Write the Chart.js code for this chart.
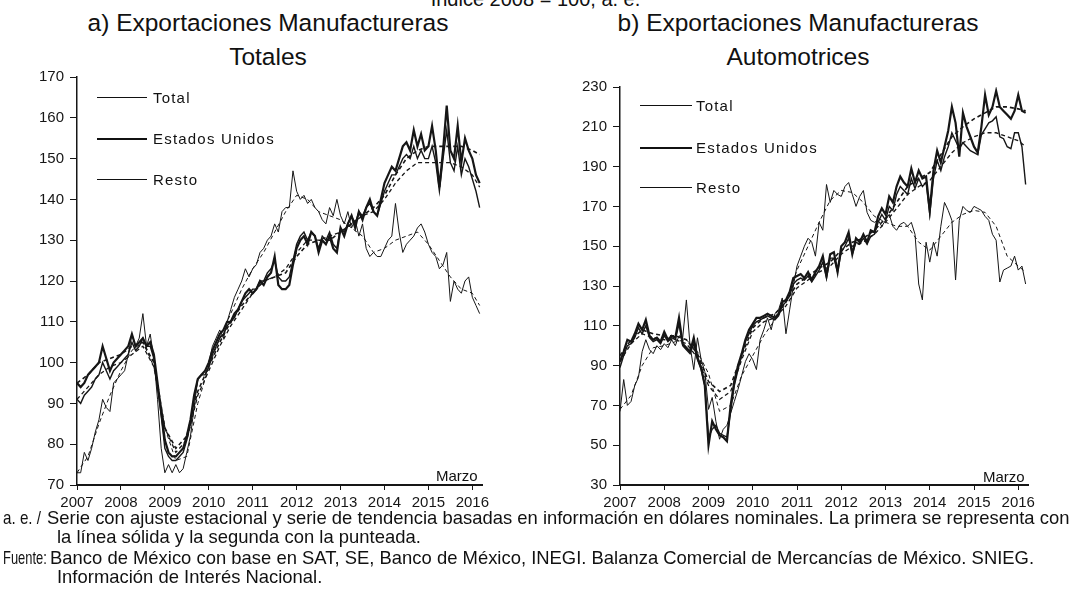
<!DOCTYPE html>
<html>
<head>
<meta charset="utf-8">
<script src="https://cdn.jsdelivr.net/npm/chart.js@4.4.1/dist/chart.umd.min.js"></script>
<style>
  body { margin: 0; background: #fff; font-family: 'Liberation Sans', Arial, sans-serif; color: #111; }
  #wrap { position: relative; width: 1071px; height: 597px; overflow: hidden; }
  .cv { position: absolute; }
  .title { position: absolute; font-size: 24.5px; text-align: center; line-height: 34px; white-space: nowrap; }
  .leg { position: absolute; font-size: 15px; letter-spacing: 1.2px; }
  .leg .ln { position: absolute; height: 0; border-top-style: solid; border-top-color: #111; }
  .leg .tx { position: absolute; white-space: nowrap; transform: translateY(-50%); }
  .marzo { position: absolute; font-size: 15px; }
  .nota { position: absolute; font-size: 19px; white-space: nowrap; transform: scaleX(0.97); transform-origin: left top; line-height: 20px; }
</style>
</head>
<body>
<div id="wrap">
  <div class="title" style="left:20px; top:-18px; width:1031px; font-size:20px;">Índice 2008 = 100, a. e.</div>
  <div class="title" style="left:28px; top:6px; width:480px;">a) Exportaciones Manufactureras<br>Totales</div>
  <div class="title" style="left:558px; top:6px; width:480px;">b) Exportaciones Manufactureras<br>Automotrices</div>

  <canvas id="chartA" class="cv" style="left:0px; top:60px;" width="500" height="460"></canvas>
  <canvas id="chartB" class="cv" style="left:540px; top:60px;" width="500" height="460"></canvas>

  <div class="leg">
    <div class="ln" style="left:97px; top:97px; width:50px; border-top-width:1.5px;"></div><div class="tx" style="left:153px; top:97px;">Total</div>
    <div class="ln" style="left:97px; top:138px; width:50px; border-top-width:2.5px;"></div><div class="tx" style="left:153px; top:138px;">Estados Unidos</div>
    <div class="ln" style="left:97px; top:179px; width:50px; border-top-width:1px;"></div><div class="tx" style="left:153px; top:179px;">Resto</div>

    <div class="ln" style="left:640px; top:105px; width:52px; border-top-width:1.5px;"></div><div class="tx" style="left:696px; top:105px;">Total</div>
    <div class="ln" style="left:640px; top:147px; width:52px; border-top-width:2.5px;"></div><div class="tx" style="left:696px; top:147px;">Estados Unidos</div>
    <div class="ln" style="left:640px; top:187px; width:52px; border-top-width:1px;"></div><div class="tx" style="left:696px; top:187px;">Resto</div>
  </div>

  <div class="marzo" style="left:436px; top:467px;">Marzo</div>
  <div class="marzo" style="left:983px; top:468px;">Marzo</div>

  <div class="nota" style="left:3px; top:508px; transform:scaleX(0.8);">a. e. /</div>
  <div class="nota" style="left:47px; top:508px;">Serie con ajuste estacional y serie de tendencia basadas en información en dólares nominales. La primera se representa con</div>
  <div class="nota" style="left:57px; top:527px;">la línea sólida y la segunda con la punteada.</div>
  <div class="nota" style="left:3px; top:548px; transform:scaleX(0.68);">Fuente:</div>
  <div class="nota" style="left:50px; top:548px;">Banco de México con base en SAT, SE, Banco de México, INEGI. Balanza Comercial de Mercancías de México. SNIEG.</div>
  <div class="nota" style="left:57px; top:567px;">Información de Interés Nacional.</div>
</div>

<script>
// Serie mensual: enero 2007 a marzo 2016
const startYear = 2007;
const yearLabels = ['2007', '2008', '2009', '2010', '2011', '2012', '2013', '2014', '2015', '2016'];
// Tendencias leídas cada trimestre (meses desde ene-2007)
const trendMonths = [0, 3, 6, 9, 12, 15, 18, 21, 24, 27, 30, 33, 36, 39, 42, 45, 48, 51, 54, 57,
                     60, 63, 66, 69, 72, 75, 78, 81, 84, 87, 90, 93, 96, 99, 102, 105, 108, 110];

// a) Totales
const aTotal = [
  91, 90, 92, 93, 94, 96, 97, 100, 98, 96, 98, 99,
  100, 101, 102, 105, 103, 104, 106, 104, 104, 101, 94, 87,
  79, 77, 76, 76, 77, 78, 81, 85, 91, 96, 97, 97,
  99, 102, 104, 106, 107, 109, 110, 111, 113, 115, 116, 117,
  118, 118, 120, 120, 122, 123, 125, 121, 120, 120, 121, 125,
  129, 131, 132, 130, 132, 131, 128, 131, 130, 132, 129, 128,
  133, 132, 134, 136, 134, 137, 136, 138, 139, 137, 136, 139,
  142, 144, 146, 146, 148, 150, 151, 150, 153, 150, 152, 150,
  150, 153, 149, 142, 150, 157, 149, 147, 153, 146, 150, 148,
  145, 142, 138
];
const aEU = [
  95, 94, 95, 97, 98, 99, 100, 104, 101, 98, 100, 101,
  102, 103, 104, 107, 104, 105, 106, 104, 105, 102, 95, 88,
  81, 78, 77, 77, 78, 79, 82, 86, 92, 96, 97, 98,
  100, 103, 105, 107, 108, 110, 110, 112, 113, 115, 117, 118,
  117, 118, 120, 119, 121, 122, 126, 119, 118, 118, 119, 124,
  128, 130, 131, 129, 132, 131, 127, 130, 129, 131, 128, 127,
  133, 131, 134, 136, 133, 137, 135, 138, 140, 137, 136, 140,
  144, 146, 148, 147, 150, 153, 154, 152, 157, 153, 156, 152,
  153, 158, 152, 143, 152, 163, 152, 150, 158, 149, 155, 152,
  150, 146, 144
];
const aResto = [
  73, 73, 78, 76, 79, 83, 86, 91, 89, 88, 95, 96,
  97, 98, 102, 107, 104, 106, 112, 104, 107, 101, 91, 79,
  73, 75, 73, 75, 73, 74, 78, 82, 89, 96, 97, 98,
  100, 104, 106, 108, 106, 110, 113, 116, 118, 120, 123, 121,
  123, 124, 127, 128, 130, 131, 134, 132, 137, 138, 138, 147,
  142, 140, 141, 139, 140, 138, 137, 135, 134, 138, 136, 140,
  136, 134, 137, 133, 135, 131, 134, 128, 126, 127, 126, 126,
  128, 130, 131, 139, 132, 127, 129, 130, 131, 133, 134, 132,
  129, 127, 126, 123, 124, 127, 115, 120, 118, 117, 120, 121,
  116, 114, 112
];
const aTotalTrend = [91, 94, 97, 99, 100, 102, 104, 99, 84, 78, 81, 92, 98, 104, 109, 113, 117, 120, 121, 123,
                     127, 130, 130, 131, 132, 134, 136, 137, 140, 144, 147, 149, 149, 149, 149, 148, 146, 143];
const aEUTrend = [95, 97, 100, 101, 102, 104, 105, 100, 84, 79, 82, 93, 99, 105, 110, 114, 117, 120, 121, 122,
                  126, 129, 130, 130, 132, 134, 136, 138, 141, 146, 150, 152, 153, 153, 153, 153, 152, 151];
const aRestoTrend = [73, 77, 85, 92, 98, 103, 105, 99, 84, 76, 77, 90, 99, 106, 112, 118, 123, 127, 132, 137,
                     141, 140, 137, 136, 135, 133, 131, 127, 128, 130, 131, 132, 129, 125, 121, 118, 117, 114];

// b) Automotrices
const bTotal = [
  89, 95, 100, 101, 104, 109, 106, 110, 104, 102, 103, 101,
  105, 102, 104, 103, 111, 100, 98, 96, 101, 93, 88, 80,
  54, 58, 60, 56, 55, 54, 67, 80, 88, 95, 102, 106,
  110, 112, 113, 114, 115, 114, 113, 115, 120, 122, 125, 131,
  133, 134, 133, 135, 132, 135, 138, 142, 134, 144, 144, 137,
  147, 150, 154, 146, 152, 151, 154, 151, 155, 156, 162, 166,
  163, 170, 168, 176, 180, 178, 176, 184, 179, 184, 180, 182,
  166, 184, 193, 188, 195, 200, 207, 203, 199, 202, 200, 198,
  197, 196, 206, 209, 212, 213, 215, 205, 204, 200, 199, 207,
  207, 200, 181
];
const bEU = [
  92, 97, 103, 102, 106, 111, 108, 113, 105, 103, 104, 102,
  107, 103, 105, 104, 114, 101, 99, 97, 104, 94, 89, 80,
  50, 62, 58, 55, 54, 52, 70, 82, 90, 96, 103, 108,
  111, 114, 114, 115, 116, 115, 114, 116, 122, 123, 127, 134,
  135, 136, 134, 137, 133, 137, 140, 145, 135, 146, 147, 137,
  150, 152, 157, 146, 154, 152, 156, 152, 158, 157, 165, 169,
  166, 175, 172, 180, 185, 182, 180, 189, 182, 188, 184, 185,
  168, 188, 198, 192, 200, 208, 220, 212, 195, 217, 210, 205,
  200, 197, 210, 226, 216, 220, 228, 220, 218, 216, 214, 218,
  226, 218, 217
];
const bResto = [
  67, 83, 70, 72, 80, 84, 97, 103, 98, 96, 100, 98,
  101, 99, 103, 100, 105, 104, 123, 100, 88, 104, 93, 87,
  68, 74, 62, 53, 58, 60, 66, 72, 78, 85, 92, 96,
  93, 88, 103, 108, 114, 108, 116, 118, 124, 106, 118, 130,
  140, 145, 150, 154, 152, 145, 162, 158, 181, 172, 178, 176,
  175, 180, 182, 176, 170, 175, 178, 167, 163, 162, 163, 160,
  163, 166, 160, 158, 161, 162, 160, 162, 156, 131, 123, 152,
  142, 152, 145, 160, 172, 168, 163, 133, 163, 170, 168, 167,
  170, 169, 168, 165, 163, 156, 153, 132, 138, 139, 140, 145,
  138, 140, 131
];
const bTotalTrend = [92, 101, 106, 104, 103, 103, 101, 94, 80, 73, 77, 93, 107, 112, 114, 120, 129, 133, 137, 140,
                     146, 150, 152, 156, 162, 169, 176, 180, 183, 190, 197, 202, 205, 207, 207, 205, 203, 200];
const bEUTrend = [95, 103, 108, 106, 105, 105, 103, 96, 82, 77, 80, 95, 109, 114, 116, 122, 131, 135, 139, 142,
                  148, 152, 154, 158, 164, 172, 180, 184, 187, 196, 205, 210, 214, 217, 220, 220, 219, 218];
const bRestoTrend = [68, 75, 90, 99, 100, 102, 103, 97, 86, 67, 70, 85, 95, 105, 113, 122, 138, 150, 162, 173,
                     178, 177, 172, 165, 162, 160, 160, 152, 148, 155, 162, 166, 168, 167, 160, 145, 140, 137];

const INK = '#161616';
const FONT = "'Liberation Sans', Arial, sans-serif";

function monthly(values) {
  return values.map((v, i) => ({ x: startYear + i / 12, y: v }));
}
function trend(values) {
  return values.map((v, i) => ({ x: startYear + trendMonths[i] / 12, y: v }));
}

function lineSet(data, width, dashed) {
  return {
    data: data,
    borderColor: INK,
    borderWidth: width,
    borderDash: dashed ? [4, 3] : [],
    pointRadius: 0,
    tension: 0,
    fill: false
  };
}

function makeChart(id, series, yOpts, axisWidth, pad) {
  const ctx = document.getElementById(id).getContext('2d');
  return new Chart(ctx, {
    type: 'line',
    data: {
      datasets: [
        lineSet(trend(series.restoT), 1, true),
        lineSet(trend(series.totalT), 1.3, true),
        lineSet(trend(series.euT), 1.6, true),
        lineSet(monthly(series.resto), 1, false),
        lineSet(monthly(series.total), 1.4, false),
        lineSet(monthly(series.eu), 2.2, false)
      ]
    },
    options: {
      responsive: false,
      animation: false,
      layout: { padding: pad },
      plugins: { legend: { display: false }, tooltip: { enabled: false } },
      scales: {
        x: {
          type: 'linear',
          min: 2007,
          max: 2016.22,
          afterFit: s => { s.height = 35; },
          border: { display: true, color: INK, width: 2 },
          grid: { drawOnChartArea: false, drawTicks: true, tickLength: 5, color: INK },
          ticks: {
            stepSize: 1,
            includeBounds: false,
            autoSkip: false,
            maxRotation: 0,
            padding: 4,
            color: INK,
            font: { family: FONT, size: 15 },
            callback: v => yearLabels[Math.round(v - startYear)]
          }
        },
        y: {
          min: yOpts.min,
          max: yOpts.max,
          afterFit: s => { s.width = axisWidth; },
          border: { display: true, color: INK, width: 1.5 },
          grid: { drawOnChartArea: false, drawTicks: true, tickLength: 7, color: INK },
          ticks: {
            stepSize: yOpts.step,
            padding: 6,
            color: INK,
            font: { family: FONT, size: 15 }
          }
        }
      }
    }
  });
}

makeChart('chartA',
  { total: aTotal, eu: aEU, resto: aResto, totalT: aTotalTrend, euT: aEUTrend, restoT: aRestoTrend },
  { min: 70, max: 170, step: 10 }, 77, { left: 0, top: 17, right: 18, bottom: 0 });

makeChart('chartB',
  { total: bTotal, eu: bEU, resto: bResto, totalT: bTotalTrend, euT: bEUTrend, restoT: bRestoTrend },
  { min: 30, max: 230, step: 20 }, 80, { left: 0, top: 27, right: 12, bottom: 0 });
</script>
</body>
</html>
